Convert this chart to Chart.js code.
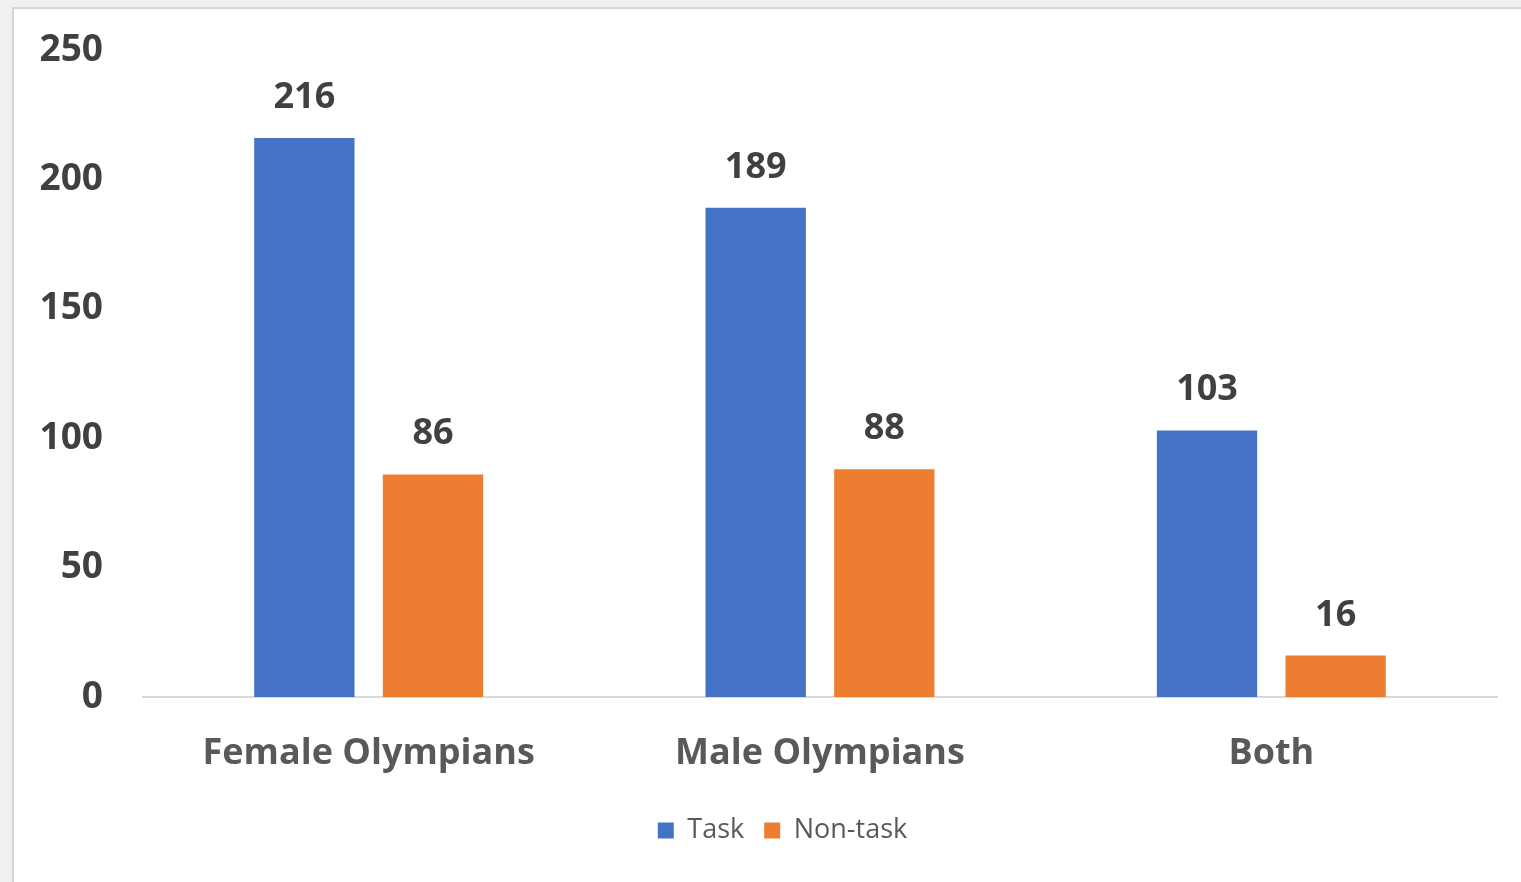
<!DOCTYPE html>
<html lang="en">
  <head>
    <meta charset="utf-8" />
    <title>Task vs Non-task</title>
    <script src="https://cdn.jsdelivr.net/npm/chart.js@4.4.1/dist/chart.umd.min.js"></script>
    <style>
      html, body { margin: 0; padding: 0; }
      body { background: #f0f0f0; width: 1521px; height: 882px; overflow: hidden; position: relative; }
      .frame {
        position: absolute; left: 12px; top: 7px; width: 1560px; height: 890px;
        background: #fff; border: 2px solid #d6d6d6;
      }
    </style>
  </head>
  <body>
    <div class="frame">
      <div style="width: 1537px; height: 873px; position: relative">
        <canvas id="olympians_chart"></canvas>
      </div>
    </div>
    <script>
      const categories = ["Female Olympians", "Male Olympians", "Both"];
      const taskValues = [216, 189, 103];
      const nonTaskValues = [86, 88, 16];
      const yTicks = { min: 0, max: 250, step: 50 };

      const BLUE = "#4472C4";
      const ORANGE = "#ED7D31";
      const FONT = "'Open Sans', 'DejaVu Sans', sans-serif";

      // draws the value above each bar
      const barValues = {
        id: "barValues",
        afterDatasetsDraw(chart) {
          const ctx = chart.ctx;
          ctx.save();
          ctx.font = "bold 36px " + FONT;
          ctx.fillStyle = "#404040";
          ctx.textAlign = "center";
          ctx.textBaseline = "alphabetic";
          chart.data.datasets.forEach((ds, i) => {
            chart.getDatasetMeta(i).data.forEach((bar, j) => {
              ctx.fillText(String(ds.data[j]), bar.x, bar.y - 30);
            });
          });
          ctx.restore();
        },
      };

      const config = {
        type: "bar",
        data: {
          labels: categories,
          datasets: [
            { label: "Task", data: taskValues, backgroundColor: BLUE },
            { label: "Non-task", data: nonTaskValues, backgroundColor: ORANGE },
          ],
        },
        options: {
          responsive: true,
          maintainAspectRatio: false,
          animation: false,
          layout: { padding: { top: 41, right: 0, left: 0, bottom: 28 } },
          datasets: { bar: { categoryPercentage: 0.57, barPercentage: 0.78 } },
          plugins: {
            tooltip: { enabled: false },
            legend: {
              position: "bottom",
              labels: {
                font: { family: FONT, size: 27 },
                color: "#595959",
                boxWidth: 16,
                boxHeight: 16,
                padding: 20,
              },
            },
          },
          scales: {
            x: {
              grid: { display: false, drawTicks: false },
              border: { display: true, color: "#d9d9d9", width: 2 },
              ticks: {
                font: { family: FONT, size: 36, weight: "bold" },
                color: "#595959",
                padding: 35,
              },
              afterFit(scale) { scale.height = 100; },
            },
            y: {
              min: yTicks.min,
              max: yTicks.max,
              grid: { display: false, drawTicks: false },
              border: { display: false },
              ticks: {
                stepSize: yTicks.step,
                font: { family: FONT, size: 37, weight: "bold" },
                color: "#404040",
                padding: 40,
              },
              afterFit(scale) {
                scale.width = 129;
                scale.paddingTop = 0;
                scale.paddingBottom = 0;
              },
            },
            // empty right gutter, keeps the legend centred on the whole frame
            gutter: {
              type: "linear",
              position: "right",
              grid: { display: false, drawTicks: false },
              border: { display: false },
              ticks: { display: false },
              afterFit(scale) { scale.width = 54; },
            },
          },
        },
        plugins: [barValues],
      };

      const myChart = new Chart(document.getElementById("olympians_chart"), config);
    </script>
  </body>
</html>
